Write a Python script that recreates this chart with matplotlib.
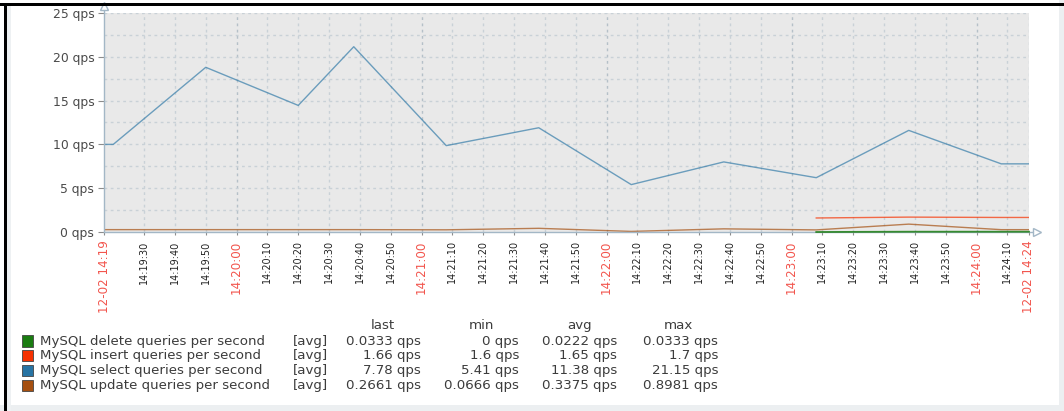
import matplotlib
matplotlib.use("Agg")
from matplotlib import pyplot as plt
from matplotlib.patches import Rectangle

# graph period (12-02)
start_time = "14:19:17"
end_time = "14:24:17"

select_times = ["14:19:20", "14:19:50", "14:20:20", "14:20:38", "14:21:08", "14:21:38",
                "14:22:08", "14:22:38", "14:23:08", "14:23:38", "14:24:08"]
select_qps = [10.0, 18.8, 14.45, 21.15, 9.86, 11.9, 5.41, 8.0, 6.2, 11.6, 7.78]

update_times = select_times
update_qps = [0.27, 0.27, 0.27, 0.27, 0.25, 0.42, 0.0666, 0.36, 0.24, 0.8981, 0.2661]

insert_times = ["14:23:08", "14:23:38", "14:24:08"]
insert_qps = [1.6, 1.7, 1.66]

delete_times = insert_times
delete_qps = [0.0, 0.0333, 0.0333]

legend_names = ["MySQL delete queries per second", "MySQL insert queries per second",
                "MySQL select queries per second", "MySQL update queries per second"]
legend_last = ["0.0333 qps", "1.66 qps", "7.78 qps", "0.2661 qps"]
legend_min = ["0 qps", "1.6 qps", "5.41 qps", "0.0666 qps"]
legend_avg = ["0.0222 qps", "1.65 qps", "11.38 qps", "0.3375 qps"]
legend_max = ["0.0333 qps", "1.7 qps", "21.15 qps", "0.8981 qps"]
series_colors = ["#1A7C11", "#F63100", "#2774A4", "#A54F10"]

y_ticks = [0, 5, 10, 15, 20, 25]

W, H = 1064, 411
AXIS_COLOR = "#a3b7c6"
GRID_COLOR = "#c9d1d7"
RED = "#f2554d"
TEXT = "#3c3c3c"


def secs(s):
    h, m, sec = map(int, s.split(":"))
    return h * 3600 + m * 60 + sec


def fx(px):
    return px / W


def fy(py):
    return 1 - py / H


def series_xy(times, values, from_start):
    x = [secs(t) for t in times]
    y = list(values)
    if from_start:
        x = [t_start] + x
        y = [y[0]] + y
    return x + [t_end], y + [y[-1]]


t_start = secs(start_time)
t_end = secs(end_time)

fig = plt.figure(figsize=(W / 100, H / 100), dpi=100)
fig.patch.set_facecolor("white")

# screenshot frame
fig.add_artist(Rectangle((0, fy(411)), 1, fy(405) - fy(411), transform=fig.transFigure, color="#eceff1", lw=0))
fig.add_artist(Rectangle((fx(1059), 0), fx(5), 1, transform=fig.transFigure, color="#eceff1", lw=0))
fig.add_artist(Rectangle((fx(7), 0), fx(4), fy(6), transform=fig.transFigure, color="#eef1f3", lw=0))
fig.add_artist(Rectangle((0, fy(6.5)), 1, fy(3) - fy(6.5), transform=fig.transFigure, color="black", lw=0))
fig.add_artist(Rectangle((fx(4), 0), fx(3), fy(3), transform=fig.transFigure, color="black", lw=0))

ax = fig.add_axes([fx(104), fy(232), fx(1029 - 104), fy(13) - fy(232)])
ax.set_facecolor("#e9e9e9")
ax.set_xlim(t_start, t_end)
ax.set_ylim(0, 25)
for s in ax.spines.values():
    s.set_visible(False)

# grid
tick_pos = [t for t in range((t_start // 10 + 1) * 10, t_end, 10) if t - t_start > 5 and t_end - t > 5]
for t in tick_pos + [t_end]:
    minute = t % 60 == 0
    ax.axvline(t, color="#b5c0c8" if minute else GRID_COLOR, lw=1.0, ls=(0, (2, 2.5)), zorder=1)
for v in [2.5 * i for i in range(1, 11)]:
    ax.axhline(v, color=GRID_COLOR, lw=1.0, ls=(0, (2, 2.5)), zorder=1)

# series
x, y = series_xy(insert_times, insert_qps, False)
ax.plot(x, y, color=series_colors[1], lw=1.0, alpha=0.7, zorder=3)
x, y = series_xy(select_times, select_qps, True)
ax.plot(x, y, color=series_colors[2], lw=1.0, alpha=0.65, zorder=3)
x, y = series_xy(update_times, update_qps, True)
ax.plot(x, y, color=series_colors[3], lw=1.0, alpha=0.7, zorder=3)

# axes with open arrows
ax.plot([0, 0], [0, 1 + 7 / 219], transform=ax.transAxes, color=AXIS_COLOR, lw=1.0, clip_on=False, zorder=4)
ax.plot([0], [1 + 7 / 219], transform=ax.transAxes, marker="^", ms=6, mfc="white", mec=AXIS_COLOR,
        mew=1.0, clip_on=False, zorder=5)
ax.plot([0, 1 + 8 / 925], [0, 0], transform=ax.transAxes, color=AXIS_COLOR, lw=1.0, clip_on=False, zorder=4)
ax.plot([1 + 8 / 925], [0], transform=ax.transAxes, marker=">", ms=6, mfc="white", mec=AXIS_COLOR,
        mew=1.0, clip_on=False, zorder=5)

# delete series sits on the x axis, draw it above
x, y = series_xy(delete_times, delete_qps, False)
ax.plot(x, y, color=series_colors[0], lw=1.3, alpha=0.85, zorder=6, clip_on=False)

# y ticks
ax.set_yticks(y_ticks, [f"{v} qps" for v in y_ticks])
ax.tick_params(axis="y", length=4, width=0.8, color="#8c8c8c", pad=3, labelsize=8.9, labelcolor="#4a4a4a")

# x ticks
x_pos = [t_start] + tick_pos + [t_end]
x_lab = ["12-02 14:19"] + ["%02d:%02d:%02d" % (t // 3600, t % 3600 // 60, t % 60) for t in tick_pos] + ["12-02 14:24"]
ax.set_xticks(x_pos, x_lab, rotation=90)
ax.tick_params(axis="x", length=2, width=0.8, color="#8c8c8c", pad=4)
for t, lab in zip(x_pos, ax.get_xticklabels()):
    if t == t_start or t == t_end or t % 60 == 0:
        lab.set_color(RED)
        lab.set_fontsize(8.6)
    else:
        lab.set_color("#222222")
        lab.set_fontsize(6.9)

# legend table
fs = 9.6
for cx, head in zip([383, 481, 580, 678], ["last", "min", "avg", "max"]):
    fig.text(fx(cx), fy(325), head, ha="center", va="center", fontsize=fs, color=TEXT)
for i in range(4):
    yy = 341 + i * 14.7
    fig.add_artist(Rectangle((fx(22), fy(yy + 5.5)), fx(11), fy(yy - 5.5) - fy(yy + 5.5),
                             transform=fig.transFigure, facecolor=series_colors[i],
                             edgecolor="#444444", lw=0.6))
    fig.text(fx(40), fy(yy), legend_names[i], ha="left", va="center", fontsize=fs, color=TEXT)
    fig.text(fx(293), fy(yy), "[avg]", ha="left", va="center", fontsize=fs, color=TEXT)
    for rx, col in zip([421, 519, 617, 718], [legend_last, legend_min, legend_avg, legend_max]):
        fig.text(fx(rx), fy(yy), col[i], ha="right", va="center", fontsize=fs, color=TEXT)

fig.savefig("out.png", dpi=100)
